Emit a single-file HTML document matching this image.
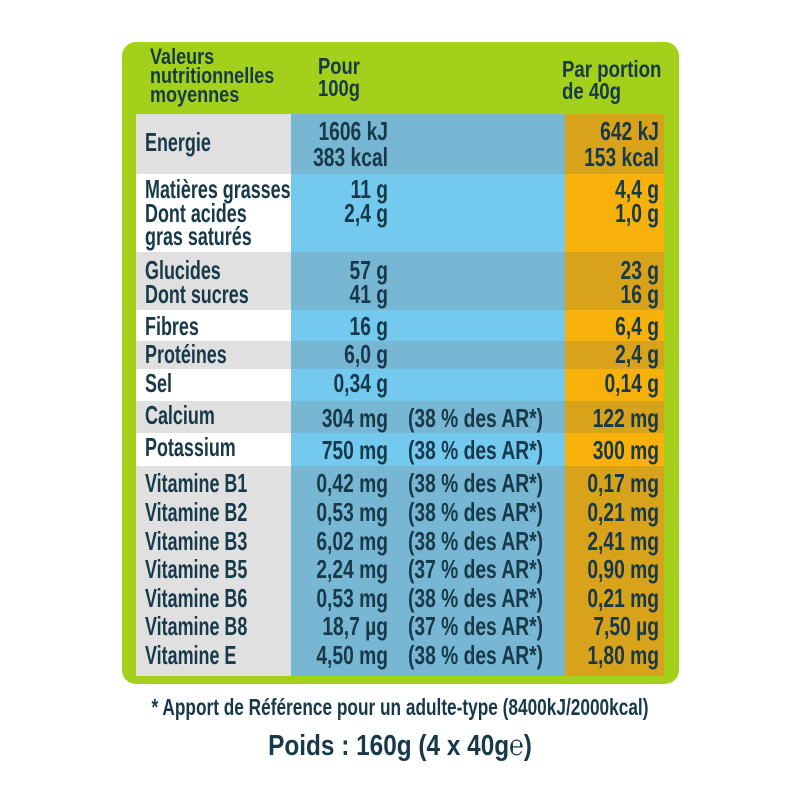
<!DOCTYPE html>
<html><head><meta charset="utf-8"><style>
body{margin:0;background:#fff;}
#c{position:relative;width:800px;height:800px;overflow:hidden;font-family:"Liberation Sans",sans-serif;font-weight:bold;color:#17394a;}
.a{position:absolute;}
.t{position:absolute;font-size:26px;line-height:26px;white-space:nowrap;transform:scaleX(0.74);transform-origin:left center;}
.r{text-align:right;transform-origin:right center;}
.lb{transform:scaleX(0.69);}
.cn{transform-origin:center center;}
</style></head><body>
<div id="c">
<div class="a" style="left:122px;top:42px;width:557px;height:642px;background:#a3d11b;border-radius:14px;"></div>
<div class="t" style="left:150px;top:47px;font-size:22px;line-height:19px;transform:scaleX(0.82);">Valeurs<br>nutritionnelles<br>moyennes</div>
<div class="t" style="left:318px;top:55px;font-size:23px;line-height:22px;transform:scaleX(0.8);">Pour<br>100g</div>
<div class="t" style="left:562px;top:58px;font-size:23px;line-height:22px;transform:scaleX(0.81);">Par portion<br>de 40g</div>
<div id="tbl" class="a" style="left:136px;top:114px;width:528px;height:562px;"></div>
<div class="t cn" style="left:0;width:800px;text-align:center;top:694px;font-size:23px;transform:scaleX(0.75);">* Apport de Référence pour un adulte-type (8400kJ/2000kcal)</div>
<div class="t cn" style="left:0;width:800px;text-align:center;top:731px;font-size:29px;line-height:30px;transform:scaleX(0.84);">Poids : 160g (4 x 40g℮)</div>
</div>
<script>
const bands=[[114,174,1],[174,252,0],[252,310,1],[310,341,0],[341,369,1],[369,401,0],[401,433,1],[433,466,0],[466,676,1]];
const rows=[
["Energie",[142],["1606 kJ","383 kcal"],[131,157],"",["642 kJ","153 kcal"]],
["Matières grasses",[189],["11 g"],[189],"",["4,4 g"]],
["Dont acides",[213],["2,4 g"],[213],"",["1,0 g"]],
["gras saturés",[236],[],[],"",[]],
["Glucides",[270],["57 g"],[270],"",["23 g"]],
["Dont sucres",[294],["41 g"],[294],"",["16 g"]],
["Fibres",[326],["16 g"],[326],"",["6,4 g"]],
["Protéines",[354],["6,0 g"],[354],"",["2,4 g"]],
["Sel",[383],["0,34 g"],[383],"",["0,14 g"]],
["Calcium",[415],["304 mg"],[418],"(38 % des AR*)",["122 mg"]],
["Potassium",[447],["750 mg"],[450],"(38 % des AR*)",["300 mg"]],
["Vitamine B1",[483],["0,42 mg"],[483],"(38 % des AR*)",["0,17 mg"]],
["Vitamine B2",[512],["0,53 mg"],[512],"(38 % des AR*)",["0,21 mg"]],
["Vitamine B3",[541],["6,02 mg"],[541],"(38 % des AR*)",["2,41 mg"]],
["Vitamine B5",[569],["2,24 mg"],[569],"(37 % des AR*)",["0,90 mg"]],
["Vitamine B6",[598],["0,53 mg"],[598],"(38 % des AR*)",["0,21 mg"]],
["Vitamine B8",[626],["18,7 µg"],[626],"(37 % des AR*)",["7,50 µg"]],
["Vitamine E",[655],["4,50 mg"],[655],"(38 % des AR*)",["1,80 mg"]]];
const c=document.getElementById('c');
function box(x,y,w,h,col,name){const d=document.createElement('div');d.className='a';


d.style.cssText=`left:${x}px;top:${y}px;width:${w}px;height:${h}px;background:${col}`;c.appendChild(d);}
function txt(s,x,cy,w,cls,name){const d=document.createElement('div');d.className='t '+cls;


d.textContent=s;d.style.left=x+'px';d.style.top=(cy-13)+'px';if(w)d.style.width=w+'px';c.appendChild(d);}
bands.forEach(b=>{const h=b[1]-b[0];
box(136,b[0],155,h,b[2]?'#e0e0e0':'#ffffff','label-cell');
box(291,b[0],274,h,b[2]?'#78b7d3':'#74c9ef','per-100g-cell');
box(565,b[0],99,h,b[2]?'#d8a21b':'#f8b10b','per-portion-cell');});
rows.forEach(r=>{
r[1].forEach(y=>txt(r[0],145,y,0,'lb','nutrient-label'));
r[2].forEach((v,i)=>txt(v,240,r[3][i],148,'r','value-100g'));
if(r[4])txt(r[4],408,r[3][0],0,'','ar-percent');
r[5].forEach((v,i)=>txt(v,500,r[3][i],159,'r','value-portion'));});
</script>
</body></html>
